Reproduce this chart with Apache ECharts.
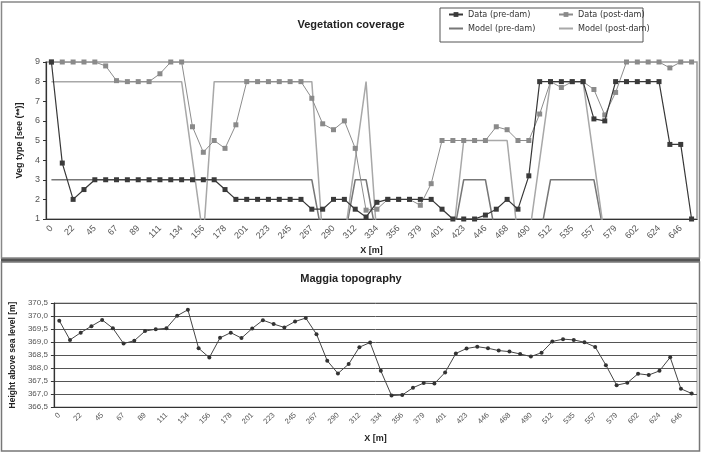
<!DOCTYPE html>
<html>
<head>
<meta charset="utf-8">
<script src="https://cdn.jsdelivr.net/npm/echarts@6/dist/echarts.min.js"></script>
<style>
  html, body { margin: 0; padding: 0; background: #fff; }
  #box { width: 702px; height: 453px; }
</style>
</head>
<body>
<div id="box"></div>
<script>
// x positions along the profile [m]; only every second one is labelled
var xCats = [0, 11, 22, 33, 45, 56, 67, 78, 89, 100, 111, 123, 134, 145, 156, 167, 178, 189, 201, 212,
  223, 234, 245, 256, 267, 279, 290, 301, 312, 323, 334, 345, 356, 368, 379, 390, 401, 412, 423, 435,
  446, 457, 468, 479, 490, 501, 512, 524, 535, 546, 557, 568, 579, 590, 602, 613, 624, 635, 646, 657];

// vegetation type
var dataPre = [9, 3.85, 2, 2.5, 3, 3, 3, 3, 3, 3, 3, 3, 3, 3, 3, 3, 2.5, 2, 2, 2,
  2, 2, 2, 2, 1.5, 1.5, 2, 2, 1.5, 1.1, 1.85, 2, 2, 2, 2, 2, 1.5, 1, 1, 1,
  1.2, 1.5, 2, 1.5, 3.2, 8, 8, 8, 8, 8, 6.1, 6, 8, 8, 8, 8, 8, 4.8, 4.8, 1];
var dataPost = [9, 9, 9, 9, 9, 8.8, 8.05, 8, 8, 8, 8.4, 9, 9, 5.7, 4.4, 5, 4.6, 5.8, 8, 8,
  8, 8, 8, 8, 7.15, 5.85, 5.55, 6, 4.6, 1.45, 1.5, 2, 2, 2, 1.7, 2.8, 5, 5, 5, 5,
  5, 5.7, 5.55, 5, 5, 6.35, 8, 7.7, 8, 8, 7.6, 6.3, 7.45, 9, 9, 9, 9, 8.7, 9, 9];
var modelPre = [3, 3, 3, 3, 3, 3, 3, 3, 3, 3, 3, 3, 3, 3, 3, 3, 3, 3, 3, 3,
  3, 3, 3, 3, 3, 0, 0, 0, 3, 3, 0, 0, 0, 0, 0, 0, 0, 0, 3, 3,
  3, 0, 0, 0, 0, 0, 3, 3, 3, 3, 3, 0, 0, 0, 0, 0, 0, 0, 0, 0];
var modelPost = [8, 8, 8, 8, 8, 8, 8, 8, 8, 8, 8, 8, 8, 4, 0, 8, 8, 8, 8, 8,
  8, 8, 8, 8, 8, 0, 0, 0, 4, 8, 0, 0, 0, 0, 0, 0, 0, 0, 5, 5,
  5, 5, 5, 0, 0, 4, 8, 8, 8, 8, 4, 0, 0, 0, 0, 0, 0, 0, 0, 0];

// height above sea level [m], bottom panel
var topo = [369.82, 369.08, 369.36, 369.61, 369.85, 369.53, 368.94, 369.05, 369.42, 369.49,
  369.53, 370.01, 370.24, 368.76, 368.40, 369.16, 369.36, 369.15, 369.52, 369.84,
  369.69, 369.56, 369.79, 369.92, 369.30, 368.28, 367.79, 368.15, 368.80, 368.98,
  367.89, 366.94, 366.96, 367.24, 367.42, 367.40, 367.83, 368.56, 368.75, 368.82,
  368.76, 368.67, 368.63, 368.54, 368.44, 368.59, 369.02, 369.11, 369.08, 368.99,
  368.81, 368.11, 367.34, 367.43, 367.78, 367.73, 367.89, 368.41, 367.20, 367.02];

var fnt = 'Liberation Sans, Arial, sans-serif';
var narrow = 'Liberation Sans Narrow, DejaVu Sans Condensed, Liberation Sans, sans-serif';

var mychart = echarts.init(document.getElementById('box'), null, {renderer: 'canvas'});

function xAx(idx, fs, mg){
  return {
    type: 'category', gridIndex: idx, data: xCats, boundaryGap: true,
    axisLine: {lineStyle: {color: '#333', width: 1.2}},
    axisTick: {interval: 0, length: 3, lineStyle: {color: '#333'}},
    axisLabel: {interval: 1, rotate: 45, fontSize: fs, color: '#555', fontFamily: fnt, margin: mg},
    name: 'X [m]', nameLocation: 'middle', nameGap: 27,
    nameTextStyle: {fontSize: 9, fontWeight: 'bold', color: '#222', fontFamily: fnt}
  };
}

var legText = {fontSize: 9, color: '#333', fontFamily: narrow};
var noMark = {opacity: 0};

var option = {
  animation: false,
  textStyle: {fontFamily: fnt},
  title: [
    {text: 'Vegetation coverage', left: 'center', top: 19, padding: 0,
      textStyle: {fontSize: 11, fontWeight: 'bold', color: '#222', fontFamily: fnt}},
    {text: 'Maggia topography', left: 'center', top: 273, padding: 0,
      textStyle: {fontSize: 11, fontWeight: 'bold', color: '#222', fontFamily: fnt}}
  ],
  legend: [
    {data: ['Data (pre-dam)', {name: 'Model (pre-dam)', itemStyle: noMark}],
      orient: 'vertical', left: 448, top: 10,
      itemWidth: 14, itemHeight: 6, itemGap: 5, padding: 0, textStyle: legText},
    {data: ['Data (post-dam)', {name: 'Model (post-dam)', itemStyle: noMark}],
      orient: 'vertical', left: 558, top: 10,
      itemWidth: 14, itemHeight: 6, itemGap: 5, padding: 0, textStyle: legText}
  ],
  graphic: [
    {type: 'rect', shape: {x: 1.5, y: 2, width: 698, height: 256}, silent: true,
      style: {fill: 'none', stroke: '#888', lineWidth: 1.5}},
    {type: 'rect', shape: {x: 1.5, y: 262, width: 698, height: 189}, silent: true,
      style: {fill: 'none', stroke: '#777', lineWidth: 1.5}},
    {type: 'line', shape: {x1: 1, y1: 260, x2: 700, y2: 260}, silent: true,
      style: {stroke: '#555', lineWidth: 3}},
    {type: 'rect', shape: {x: 440, y: 8, width: 203, height: 34}, silent: true,
      style: {fill: 'none', stroke: '#555', lineWidth: 1}}
  ],
  grid: [
    {left: 46, top: 62, width: 651, height: 157, show: true, borderColor: '#9a9a9a', borderWidth: 1.5, backgroundColor: 'transparent'},
    {left: 46, top: 303, width: 651, height: 104, show: true, borderColor: '#9a9a9a', borderWidth: 1, backgroundColor: 'transparent'}
  ],
  xAxis: [xAx(0, 9, 8), xAx(1, 7.5, 7)],
  yAxis: [
    {type: 'value', gridIndex: 0, min: 1, max: 9, interval: 1,
      axisLine: {show: true, lineStyle: {color: '#333', width: 1.2}},
      axisTick: {show: true, length: 3, lineStyle: {color: '#333'}},
      axisLabel: {fontSize: 9, color: '#555', fontFamily: fnt, margin: 6},
      splitLine: {show: false},
      name: 'Veg type [see (**)]', nameLocation: 'middle', nameGap: 11,
      nameTextStyle: {fontSize: 9, fontWeight: 'bold', color: '#222', fontFamily: fnt}},
    {type: 'value', gridIndex: 1, min: 366.5, max: 370.5, interval: 0.5,
      axisLine: {show: true, lineStyle: {color: '#333', width: 1.2}},
      axisTick: {show: true, length: 3, lineStyle: {color: '#333'}},
      axisLabel: {fontSize: 8, color: '#555', fontFamily: fnt, margin: 6,
        formatter: function(v){ return v.toFixed(1).replace('.', ','); }},
      splitLine: {show: true, lineStyle: {color: '#555', width: 1}},
      name: 'Height above sea level [m]', nameLocation: 'middle', nameGap: 27,
      nameTextStyle: {fontSize: 8.5, fontWeight: 'bold', color: '#222', fontFamily: fnt}}
  ],
  series: [
    {name: 'Model (pre-dam)', type: 'line', xAxisIndex: 0, yAxisIndex: 0, data: modelPre,
      symbol: 'none', clip: true, lineStyle: {color: '#777', width: 1.5}, itemStyle: {color: '#777'}, z: 2},
    {name: 'Model (post-dam)', type: 'line', xAxisIndex: 0, yAxisIndex: 0, data: modelPost,
      symbol: 'none', clip: true, lineStyle: {color: '#a8a8a8', width: 1.5}, itemStyle: {color: '#a8a8a8'}, z: 2},
    {name: 'Data (post-dam)', type: 'line', xAxisIndex: 0, yAxisIndex: 0, data: dataPost,
      symbol: 'rect', symbolSize: 5, showAllSymbol: true,
      lineStyle: {color: '#8c8c8c', width: 1}, itemStyle: {color: '#8a8a8a'}, z: 3},
    {name: 'Data (pre-dam)', type: 'line', xAxisIndex: 0, yAxisIndex: 0, data: dataPre,
      symbol: 'rect', symbolSize: 5, showAllSymbol: true,
      lineStyle: {color: '#383838', width: 1.2}, itemStyle: {color: '#3a3a3a'}, z: 4},
    {name: 'Topography', type: 'line', xAxisIndex: 1, yAxisIndex: 1, data: topo,
      symbol: 'circle', symbolSize: 4, showAllSymbol: true,
      lineStyle: {color: '#444', width: 1}, itemStyle: {color: '#333'}, z: 3}
  ]
};
mychart.setOption(option);
</script>
</body>
</html>
